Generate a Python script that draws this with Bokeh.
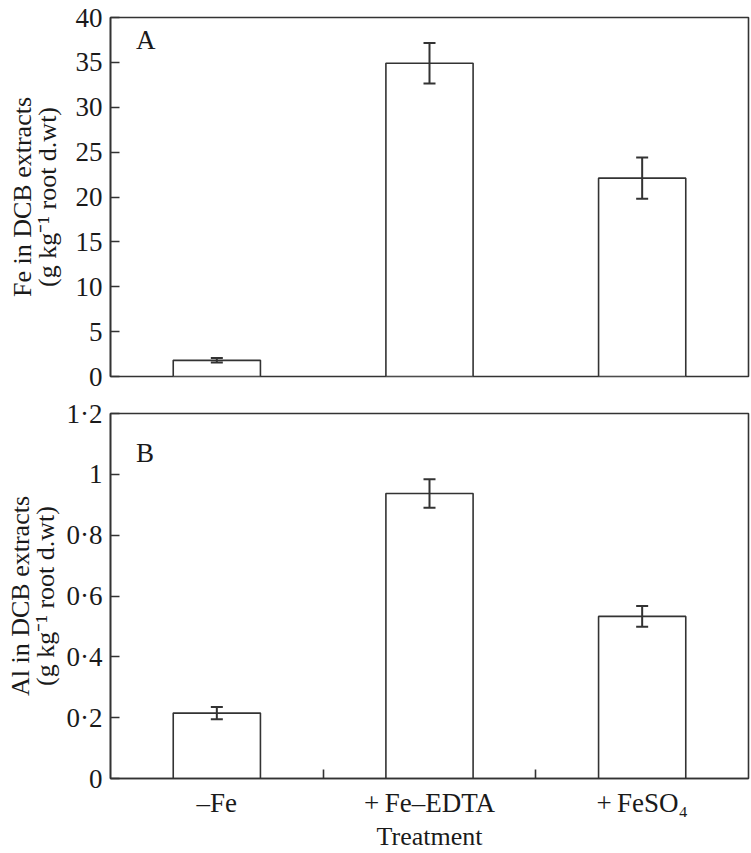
from bokeh.plotting import figure
from bokeh.models import Range1d, FixedTicker, Whisker, ColumnDataSource, Label, TeeHead
from bokeh.layouts import column
from bokeh.embed import file_html
from bokeh.resources import INLINE

# ---- data ----
treatments = ["–Fe", "+\u2009Fe–EDTA", "+\u2009FeSO₄"]
fe_mean = [1.8, 34.9, 22.1]
fe_err = [0.25, 2.25, 2.3]
al_mean = [0.215, 0.937, 0.533]
al_err = [0.02, 0.047, 0.034]
fe_ticks = [0, 5, 10, 15, 20, 25, 30, 35, 40]
al_ticks = [0, 0.2, 0.4, 0.6, 0.8, 1.0, 1.2]
al_tick_labels = ["0", "0·2", "0·4", "0·6", "0·8", "1", "1·2"]

LINE = "#333333"
TEXT = "#1a1a1a"
FONT = "Liberation Serif"

n = len(treatments)
xpos = [i + 0.5 for i in range(n)]
bounds = [i for i in range(1, n)]


def make_panel(mean, err, yticks, ylabels, ymax, ylabel, height, top, bottom, show_x, lab_standoff):
    p = figure(width=751, height=height, output_backend="svg", toolbar_location=None,
               x_range=Range1d(0, n), y_range=Range1d(0, ymax),
               min_border_left=110, min_border_right=3,
               min_border_top=top, min_border_bottom=bottom)
    p.background_fill_color = "white"
    p.border_fill_color = "white"
    p.xgrid.visible = False
    p.ygrid.visible = False
    p.outline_line_color = LINE
    p.outline_line_width = 1.6
    p.outline_line_alpha = 1.0

    src = ColumnDataSource(dict(
        x=xpos, top=mean,
        upper=[m + e for m, e in zip(mean, err)],
        lower=[m - e for m, e in zip(mean, err)],
    ))
    p.vbar(x="x", top="top", bottom=0, width=0.41, source=src,
           fill_color="white", line_color=LINE, line_width=1.6)
    w = Whisker(base="x", upper="upper", lower="lower", source=src,
                line_color=LINE, line_width=2, level="overlay",
                upper_head=TeeHead(size=12, line_color=LINE, line_width=2),
                lower_head=TeeHead(size=12, line_color=LINE, line_width=2))
    p.add_layout(w)

    ya = p.yaxis[0]
    ya.ticker = FixedTicker(ticks=yticks, minor_ticks=[])
    if ylabels is not None:
        ya.major_label_overrides = {t: l for t, l in zip(yticks, ylabels)}
    ya.major_tick_in = 9
    ya.major_tick_out = 0
    ya.major_tick_line_color = LINE
    ya.major_tick_line_width = 1.6
    ya.minor_tick_line_color = None
    ya.axis_line_color = LINE
    ya.axis_line_width = 1.6
    ya.major_label_text_font = FONT
    ya.major_label_text_font_size = "27px"
    ya.major_label_text_color = TEXT
    ya.major_label_standoff = 8
    ya.axis_label = ylabel
    ya.axis_label_text_font = FONT
    ya.axis_label_text_font_size = "26px"
    ya.axis_label_text_line_height = 0.85
    ya.axis_label_text_font_style = "normal"
    ya.axis_label_text_color = TEXT
    ya.axis_label_standoff = lab_standoff

    xa = p.xaxis[0]
    if show_x:
        xa.ticker = FixedTicker(ticks=xpos, minor_ticks=bounds)
        xa.major_label_overrides = {t: l for t, l in zip(xpos, treatments)}
        xa.major_tick_line_color = None
        xa.major_tick_in = 0
        xa.major_tick_out = 0
        xa.minor_tick_in = 9
        xa.minor_tick_out = 0
        xa.minor_tick_line_color = LINE
        xa.minor_tick_line_width = 1.6
        xa.axis_line_color = LINE
        xa.axis_line_width = 1.6
        xa.major_label_text_font = FONT
        xa.major_label_text_font_size = "27px"
        xa.major_label_text_line_height = 1.0
        xa.major_label_text_color = TEXT
        xa.major_label_standoff = 9
        xa.axis_label = "Treatment"
        xa.axis_label_text_font = FONT
        xa.axis_label_text_font_size = "26px"
        xa.axis_label_text_line_height = 1.0
        xa.axis_label_text_font_style = "normal"
        xa.axis_label_text_color = TEXT
        xa.axis_label_standoff = 1
    else:
        xa.visible = False
    return p


p1 = make_panel(fe_mean, fe_err, fe_ticks, None, 40,
                "Fe in DCB extracts\n(g kg⁻¹ root d.wt)", 395, 17, 19, False, 11)
p1.add_layout(Label(x=0.12, y=39.2, text="A", text_baseline="top", text_font=FONT,
                    text_font_size="27px", text_color=TEXT))

p2 = make_panel(al_mean, al_err, al_ticks, al_tick_labels, 1.2,
                "Al in DCB extracts\n(g kg⁻¹ root d.wt)", 458, 18, 75, True, 4)
p2.add_layout(Label(x=0.12, y=1.12, text="B", text_baseline="top", text_font=FONT,
                    text_font_size="27px", text_color=TEXT))

layout = column(p1, p2, spacing=0)
open("out.html", "w").write(file_html(layout, INLINE))
